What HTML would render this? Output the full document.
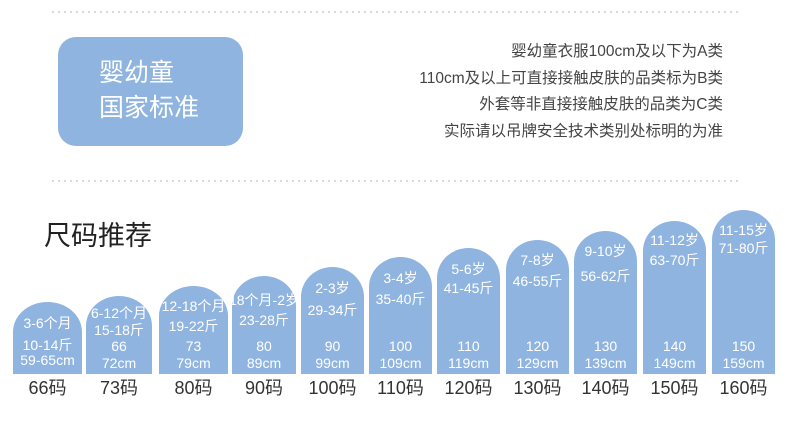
<!DOCTYPE html>
<html><head><meta charset="utf-8"><style>
body{margin:0;width:790px;height:426px;background:#fff;position:relative;overflow:hidden;font-family:"Liberation Sans","Noto Sans CJK SC",sans-serif}
.dots{position:absolute;left:50px;width:690px;height:2px;background-image:radial-gradient(circle,#d6d6d6 1px,transparent 1.2px);background-size:6px 2px}
.box{position:absolute;left:58px;top:37px;width:185px;height:109px;border-radius:18px;background:#8fb4e0;color:#fff;font-size:25px}
.box div{position:absolute;left:41px;line-height:30px}
.rt{position:absolute;right:67px;color:#444;font-size:15.5px;text-align:right;white-space:nowrap;line-height:18px}
.bar{position:absolute;bottom:52px;background:#8fb4e0;border-radius:50% 50% 0 0/30px 30px 0 0}
.t{position:absolute;left:-6px;right:-6px;text-align:center;color:#fff;font-size:14px;line-height:16px;white-space:nowrap}
.lab{position:absolute;top:377px;text-align:center;color:#333;font-size:18px;line-height:22px;white-space:nowrap}
h2{position:absolute;left:44px;top:220px;margin:0;font-weight:normal;font-size:27px;color:#222;line-height:32px}
</style></head><body>
<div class="dots" style="top:11px"></div>
<div class="dots" style="top:180px"></div>
<div class="box"><div style="top:21px">婴幼童</div><div style="top:56px">国家标准</div></div>
<div class="rt" style="top:43px">婴幼童衣服100cm及以下为A类</div>
<div class="rt" style="top:70px">110cm及以上可直接接触皮肤的品类标为B类</div>
<div class="rt" style="top:96px">外套等非直接接触皮肤的品类为C类</div>
<div class="rt" style="top:123px">实际请以吊牌安全技术类别处标明的为准</div>
<h2>尺码推荐</h2>
<div id="bars"></div>
<script>
var d=[[13,69,302,'3-6个月','10-14斤',323,345,'',''],[86,66,296,'6-12个月','15-18斤',313,330,'66','72'],[159,69,286,'12-18个月','19-22斤',306,326,'73','79'],[232,64,276,'18个月-2岁','23-28斤',300,320,'80','89'],[301,63,267,'2-3岁','29-34斤',288,310,'90','99'],[369,63,257,'3-4岁','35-40斤',278,299,'100','109'],[437,63,248,'5-6岁','41-45斤',269,288,'110','119'],[506,63,240,'7-8岁','46-55斤',260,281,'120','129'],[574,63,231,'9-10岁','56-62斤',251,276,'130','139'],[643,63,221,'11-12岁','63-70斤',240,260,'140','149'],[712,63,210,'11-15岁','71-80斤',230,248,'150','159']];
var L=['66','73','80','90','100','110','120','130','140','150','160'];
var h='';
d.forEach(function(b,i){
var top=b[2];
h+='<div class="bar" style="left:'+b[0]+'px;width:'+b[1]+'px;top:'+top+'px">';
var f=b[3].length>7?'font-size:12.5px;':'';
h+='<div class="t" style="'+f+'top:'+(b[5]-top-8)+'px">'+b[3]+'</div>';
h+='<div class="t" style="top:'+(b[6]-top-8)+'px">'+b[4]+'</div>';
if(i==0){h+='<div class="t" style="top:'+(360-top-8)+'px">59-65cm</div>';}
else{h+='<div class="t" style="top:'+(346-top-8)+'px">'+b[7]+'</div><div class="t" style="top:'+(363-top-8)+'px">'+b[8]+'cm</div>';}
h+='</div>';
h+='<div class="lab" style="left:'+(b[0]-10)+'px;width:'+(b[1]+20)+'px">'+L[i]+'码</div>';
});
document.getElementById('bars').innerHTML=h;
</script>
</body></html>
